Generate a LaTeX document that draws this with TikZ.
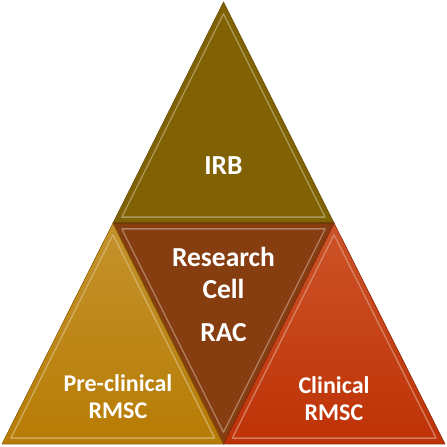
\documentclass[tikz,border=0pt]{standalone}
\usepackage{fontspec}
\setmainfont{Carlito}
\usetikzlibrary{calc}
\definecolor{irbfill}{RGB}{128,97,3}
\definecolor{cellfill}{RGB}{134,61,16}
\definecolor{preclintop}{RGB}{196,146,44}
\definecolor{preclinbot}{RGB}{183,124,4}
\definecolor{clintop}{RGB}{204,84,40}
\definecolor{clinbot}{RGB}{190,50,6}

\begin{document}
\begin{tikzpicture}[
  x=1pt,
  y=1pt,
  line join=round,
  facet/.style={
    draw=#1!75!black,
    line width=0.6pt
  },
  bevel/.style={
    draw=#1!55!white,
    line width=1.3pt,
    opacity=0.8
  },
  biglabel/.style={
    font=\fontsize{27.5}{32}\selectfont\bfseries,
    text=white,
    align=center,
    anchor=base
  },
  smalllabel/.style={
    font=\fontsize{24}{27}\selectfont\bfseries,
    text=white,
    align=center,
    anchor=base
  }
]
\useasboundingbox (0,0) rectangle (447,447);

% Corners of the big triangle and the mid points of its sides.
\coordinate (apex) at (223.5,445);
\coordinate (leftmid) at (113,224);
\coordinate (rightmid) at (334,224);
\coordinate (botleft) at (2,3);
\coordinate (botmid) at (223.5,3);
\coordinate (botright) at (445,3);

% ---------------------------------------------------------------------------
% Four facets: top, centre (inverted), bottom left, bottom right.
% ---------------------------------------------------------------------------
\fill[irbfill] (apex) -- (leftmid) -- (rightmid) -- cycle;
\fill[cellfill] (leftmid) -- (rightmid) -- (botmid) -- cycle;
\shade[top color=preclintop,bottom color=preclinbot]
  (leftmid) -- (botleft) -- (botmid) -- cycle;
\shade[top color=clintop,bottom color=clinbot]
  (rightmid) -- (botmid) -- (botright) -- cycle;

% Bevel: a light inner rim and a darker outer edge on every facet.
\draw[bevel=irbfill]
  ($(apex)!0.08!(223.5,297.7)$) -- ($(leftmid)!0.08!(223.5,297.7)$)
  -- ($(rightmid)!0.08!(223.5,297.7)$) -- cycle;
\draw[bevel=cellfill]
  ($(leftmid)!0.08!(223.5,150.3)$) -- ($(rightmid)!0.08!(223.5,150.3)$)
  -- ($(botmid)!0.08!(223.5,150.3)$) -- cycle;
\draw[bevel=preclinbot]
  ($(leftmid)!0.08!(112.8,76.7)$) -- ($(botleft)!0.08!(112.8,76.7)$)
  -- ($(botmid)!0.08!(112.8,76.7)$) -- cycle;
\draw[bevel=clinbot]
  ($(rightmid)!0.08!(334.2,76.7)$) -- ($(botmid)!0.08!(334.2,76.7)$)
  -- ($(botright)!0.08!(334.2,76.7)$) -- cycle;

\draw[facet=irbfill] (apex) -- (leftmid) -- (rightmid) -- cycle;
\draw[facet=cellfill] (leftmid) -- (rightmid) -- (botmid) -- cycle;
\draw[facet=preclinbot] (leftmid) -- (botleft) -- (botmid) -- cycle;
\draw[facet=clinbot] (rightmid) -- (botmid) -- (botright) -- cycle;

% Labels (base anchor sits on the last line).
\node[biglabel] (irb) at (223.5,272) {IRB};
\node[biglabel] (cell) at (223.5,105) {Research\\Cell\\[11pt]RAC};
\node[smalllabel] (preclin) at (118,28) {Pre-clinical\\RMSC};
\node[smalllabel] (clin) at (334,26) {Clinical\\RMSC};

\end{tikzpicture}
\end{document}
